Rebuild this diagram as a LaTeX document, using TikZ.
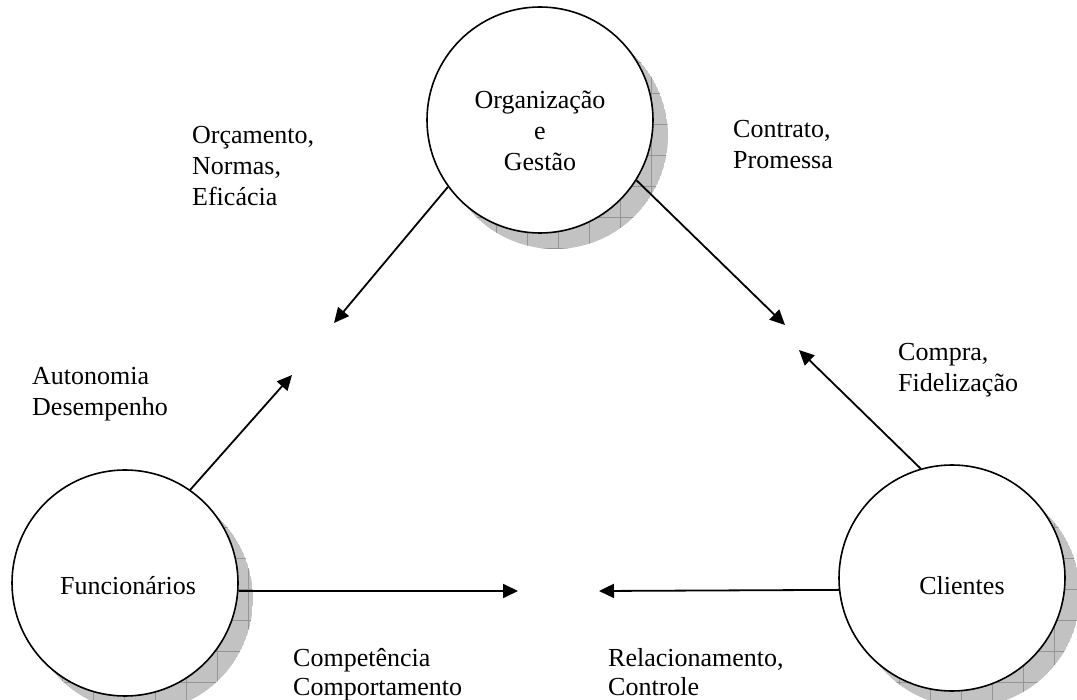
\documentclass[tikz,border=0pt]{standalone}
\usepackage{fontspec}
\setmainfont{Liberation Serif}
\usetikzlibrary{arrows.meta}

\tikzset{
  actor/.style={circle, draw=black, line width=1.6pt, fill=white,
    minimum size=226pt, inner sep=0pt},
  actortext/.style={align=center, inner sep=0pt,
    font=\fontsize{26}{31}\selectfont},
  flow/.style={line width=1.8pt, draw=black,
    -{Triangle[length=15pt,width=14pt]}},
  lbl/.style={anchor=north west, align=left, inner sep=0pt,
    font=\fontsize{26}{31}\selectfont},
  shadowfill/.style={fill=black!24},
  shadowgrid/.style={draw=black!42, line width=0.7pt},
}

% hatched drop shadow behind a circle: #1 = centre, #2 = radius
\newcommand\gridshadow[2]{%
  \begin{scope}
    \clip ([shift={(15,16)}]#1) circle[radius=#2];
    \fill[shadowfill] ([shift={(15,16)}]#1) circle[radius=#2];
    \foreach \g in {0,31,...,1085} {
      \draw[shadowgrid] (\g,0) -- (\g,700);
    }
    \foreach \g in {0,31,...,700} {
      \draw[shadowgrid] (0,\g) -- (1077,\g);
    }
  \end{scope}}

\begin{document}
\begin{tikzpicture}[x=1pt, y=-1pt]
  \useasboundingbox (0,0) rectangle (1077,700);
  \fill[white] (0,0) rectangle (1077,700);

  % shadows
  \gridshadow{540,120}{113}
  \gridshadow{125,583}{113}
  \gridshadow{952,578}{113}

  % the three actors
  \node[actor] (org) at (540,120) {};
  \node[actor] (fun) at (125,583) {};
  \node[actor] (cli) at (952,578) {};

  \node[actortext] (orgtxt) at (540,131) {Organização\\e\\Gestão};
  \node[actortext] (funtxt) at (128,586) {Funcionários};
  \node[actortext] (clitxt) at (962,586) {Clientes};

  % arrow tips
  \coordinate (t1) at (334,323);
  \coordinate (t2) at (292,375);
  \coordinate (t3) at (785,325);
  \coordinate (t4) at (799,350);
  \coordinate (t5) at (518,591);
  \coordinate (t6) at (599,591);

  % flows
  \draw[flow] (org.216) -- (t1);
  \draw[flow] (fun.55) -- (t2);
  \draw[flow] (org.328) -- (t3);
  \draw[flow] (cli.106.5) -- (t4);
  \draw[flow] (fun.-4) -- (t5);
  \draw[flow] (cli.186.5) -- (t6);

  % labels
  \node[lbl] (l1) at (192,121.3) {\strut Orçamento,\\Normas,\\Eficácia};
  \node[lbl] (l2) at (733,115.3) {\strut Contrato,\\Promessa};
  \node[lbl] (l3) at (32,362.3) {\strut Autonomia\\Desempenho};
  \node[lbl] (l4) at (898,338.3) {\strut Compra,\\Fidelização};
  \node[lbl, font=\fontsize{26}{29}\selectfont] (l5) at (293,645.7) {\strut Competência\\Comportamento};
  \node[lbl, font=\fontsize{26}{29}\selectfont] (l6) at (608,645.7) {\strut Relacionamento,\\Controle};
\end{tikzpicture}
\end{document}
